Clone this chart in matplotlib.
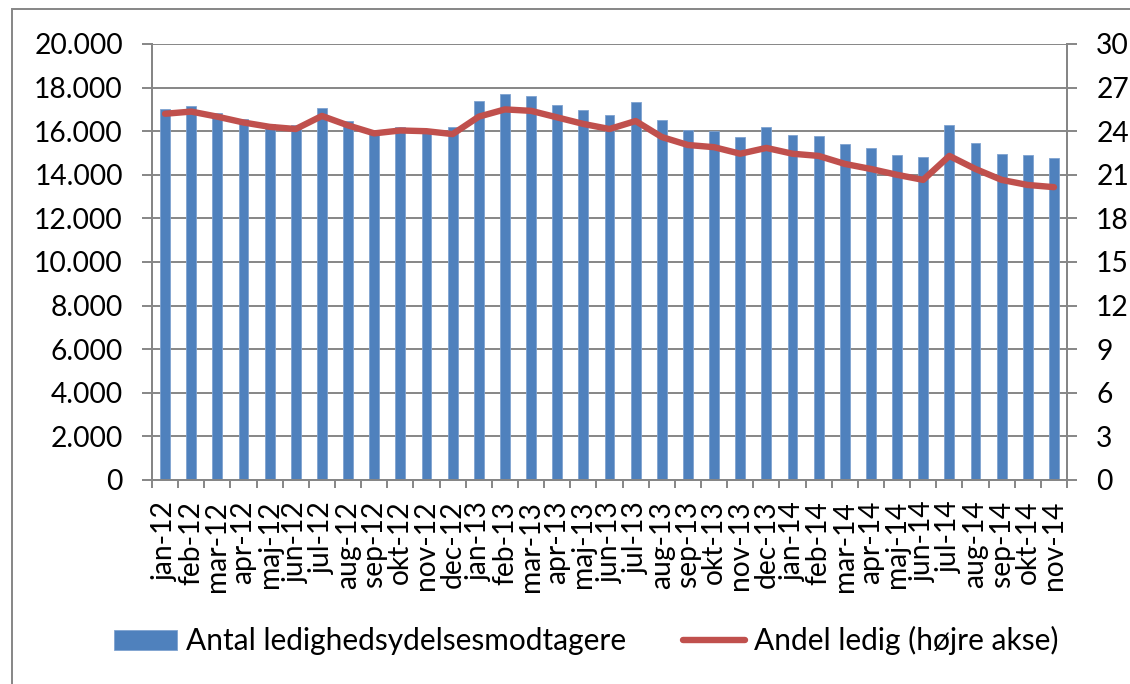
import matplotlib.pyplot as plt
from matplotlib.patches import Rectangle
from matplotlib.ticker import FuncFormatter, MultipleLocator, FixedLocator

# Maaneder jan-12 til nov-14
maaneder = ['jan-12', 'feb-12', 'mar-12', 'apr-12', 'maj-12', 'jun-12', 'jul-12', 'aug-12',
            'sep-12', 'okt-12', 'nov-12', 'dec-12',
            'jan-13', 'feb-13', 'mar-13', 'apr-13', 'maj-13', 'jun-13', 'jul-13', 'aug-13',
            'sep-13', 'okt-13', 'nov-13', 'dec-13',
            'jan-14', 'feb-14', 'mar-14', 'apr-14', 'maj-14', 'jun-14', 'jul-14', 'aug-14',
            'sep-14', 'okt-14', 'nov-14']

# Antal ledighedsydelsesmodtagere (venstre akse)
antal = [17000, 17150, 16850, 16550, 16330, 16280, 17050, 16470,
         16000, 16180, 16100, 16210,
         17390, 17720, 17610, 17200, 16960, 16760, 17350, 16510,
         16050, 16010, 15720, 16180,
         15830, 15790, 15410, 15230, 14920, 14830, 16300, 15440,
         14970, 14890, 14770]

# Andel ledig i procent (hoejre akse)
andel = [25.2, 25.35, 25.0, 24.6, 24.3, 24.15, 25.05, 24.4,
         23.85, 24.05, 24.0, 23.8,
         25.0, 25.5, 25.4, 24.95, 24.5, 24.15, 24.7, 23.6,
         23.05, 22.9, 22.45, 22.85,
         22.45, 22.3, 21.75, 21.4, 21.0, 20.65, 22.3, 21.4,
         20.65, 20.3, 20.15]

bla = '#4F81BD'
rod = '#C0504D'
graa = '#868686'
taille = 20.3

plt.rcParams['font.family'] = ['Lato', 'DejaVu Sans']
plt.rcParams['font.size'] = taille

fig = plt.figure(figsize=(11.3, 6.84), dpi=100)
ax = fig.add_axes([152 / 1130, 204 / 684, 915 / 1130, 436 / 684])

x = list(range(len(maaneder)))
ax.bar(x, antal, width=0.38, color=bla, edgecolor='#7FA3D0', linewidth=0.6,
       label='Antal ledighedsydelsesmodtagere', zorder=2)

ax.set_xlim(-0.5, len(maaneder) - 0.5)
ax.set_ylim(0, 20000)
ax.yaxis.set_major_locator(MultipleLocator(2000))
ax.yaxis.set_major_formatter(FuncFormatter(lambda v, p: '{:,.0f}'.format(v).replace(',', '.')))
ax.grid(axis='y', color=graa, linewidth=1.4, zorder=0)
ax.set_axisbelow(True)

# labels au centre, petites marques entre les categories
ax.set_xticks(x)
ax.set_xticklabels(maaneder, rotation=90, va='top', ha='center')
ax.xaxis.set_minor_locator(FixedLocator([i - 0.5 for i in range(len(maaneder) + 1)]))
ax.tick_params(axis='x', which='major', length=0, pad=15)
ax.tick_params(axis='x', which='minor', length=6, width=1.4, color=graa)
ax.tick_params(axis='y', length=7, width=1.4, color=graa, pad=14)

for s in ['left', 'bottom', 'right']:
    ax.spines[s].set_color(graa)
    ax.spines[s].set_linewidth(1.4)
ax.spines['top'].set_visible(False)

ax2 = ax.twinx()
ax2.plot(x, andel, color=rod, linewidth=4.6, solid_capstyle='round',
         solid_joinstyle='round', label='Andel ledig (højre akse)')
ax2.set_ylim(0, 30)
ax2.yaxis.set_major_locator(MultipleLocator(3))
ax2.tick_params(axis='y', length=7, width=1.4, color=graa, pad=14)
for s in ['left', 'bottom', 'right']:
    ax2.spines[s].set_color(graa)
    ax2.spines[s].set_linewidth(1.4)
ax2.spines['top'].set_visible(False)

h1, l1 = ax.get_legend_handles_labels()
h2, l2 = ax2.get_legend_handles_labels()
fig.legend(h1 + h2, l1 + l2, loc='center', bbox_to_anchor=(0.519, 0.063), ncol=2,
           frameon=False, handlelength=2.1, handletextpad=0.3, columnspacing=1.9,
           fontsize=21.5)

# cadre du graphique
fig.patches.append(Rectangle((12 / 1130, -0.1), 1.2, 1.1 - 9 / 684, transform=fig.transFigure,
                             fill=False, edgecolor=graa, linewidth=1.4))

fig.savefig('out.png', dpi=100)
